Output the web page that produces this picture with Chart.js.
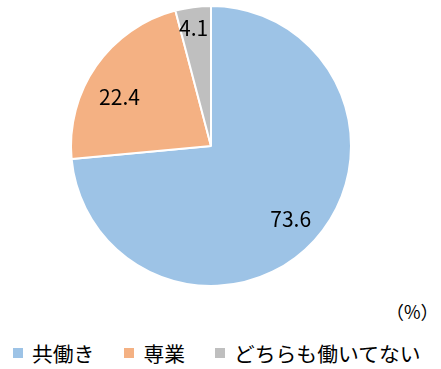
<!DOCTYPE html>
<html lang="ja">
<head>
<meta charset="utf-8">
<script src="https://cdn.jsdelivr.net/npm/chart.js@4/dist/chart.umd.min.js"></script>
<style>
  html, body { margin: 0; padding: 0; background: #fff; }
  #wrap { position: relative; width: 441px; height: 369px; font-family: "Noto Sans CJK JP", "Noto Sans", sans-serif; color: #000; }
  #pieBox { position: absolute; left: 0; top: 0; width: 441px; height: 292px; }
  #unit { position: absolute; left: 386px; top: 299px; font-size: 18px; line-height: 24px; }
  #legend { position: absolute; left: 13px; top: 339px; display: flex; align-items: center; font-size: 20.8px; line-height: 28px; white-space: nowrap; }
  .item { display: flex; align-items: center; margin-right: 30px; }
  .item:last-child { margin-right: 0; }
  .box { width: 10px; height: 10px; margin-right: 9px; }
</style>
</head>
<body>
<div id="wrap">
  <div id="pieBox"><canvas id="pieChart"></canvas></div>
  <div id="unit">（%）</div>
  <div id="legend"></div>
</div>
<script>
const categories = ["共働き", "専業", "どちらも働いてない"];
const shares = [73.6, 22.4, 4.1];
const unitLabel = "（%）";

const sliceColors = ["#9DC3E6", "#F4B183", "#BFBFBF"];
const labelRadius = [0.77, 0.74, 0.85];
const labelAngleShift = [0, -7, -1];

document.getElementById("unit").textContent = unitLabel;

const legendEl = document.getElementById("legend");
categories.forEach((name, i) => {
  const item = document.createElement("div");
  item.className = "item";
  item.innerHTML = `<span class="box" style="background:${sliceColors[i]}"></span><span>${name}</span>`;
  legendEl.appendChild(item);
});

const sliceLabels = {
  id: "sliceLabels",
  afterDatasetsDraw(chart) {
    const ctx = chart.ctx;
    const meta = chart.getDatasetMeta(0);
    ctx.save();
    ctx.font = '21px "Noto Sans CJK JP", "Noto Sans", sans-serif';
    ctx.fillStyle = "#000";
    ctx.textAlign = "center";
    ctx.textBaseline = "middle";
    meta.data.forEach((arc, i) => {
      const p = arc.getProps(["x", "y", "startAngle", "endAngle", "outerRadius"], true);
      const mid = (p.startAngle + p.endAngle) / 2 + labelAngleShift[i] * Math.PI / 180;
      const r = p.outerRadius * labelRadius[i];
      ctx.fillText(shares[i].toFixed(1), p.x + Math.cos(mid) * r, p.y + Math.sin(mid) * r);
    });
    ctx.restore();
  }
};

new Chart(document.getElementById("pieChart"), {
  type: "pie",
  data: {
    labels: categories,
    datasets: [{
      data: shares,
      backgroundColor: sliceColors,
      borderColor: "#fff",
      borderWidth: 2
    }]
  },
  options: {
    responsive: true,
    maintainAspectRatio: false,
    animation: false,
    layout: { padding: { top: 5, bottom: 5, left: 0, right: 19 } },
    plugins: {
      legend: { display: false },
      tooltip: { enabled: false }
    }
  },
  plugins: [sliceLabels]
});
</script>
</body>
</html>
